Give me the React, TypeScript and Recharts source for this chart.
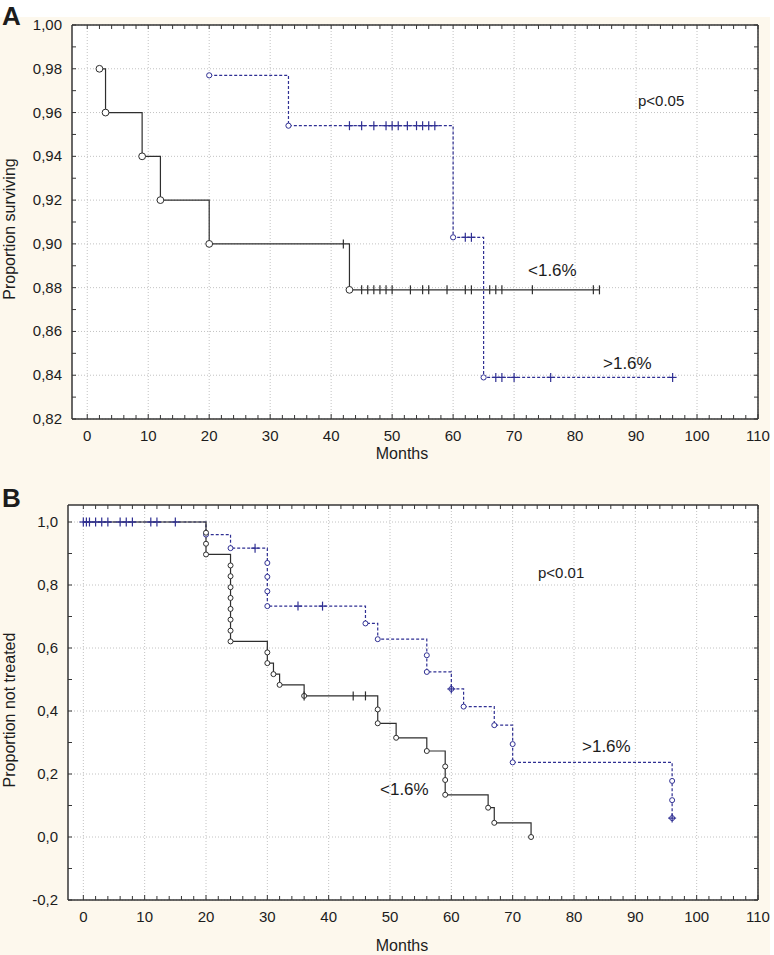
import React from 'react';
import { ComposedChart, Line, Scatter, XAxis, YAxis, CartesianGrid } from 'recharts';

const AXIS = '#363636';
const LOW = '#2e2e2e';
const HIGH = '#2f2f93';
const TXT = '#1c1c1c';
const FONT = '"Liberation Sans", Arial, sans-serif';

// ---- panel A: proportion surviving ----
const aLowTimes = [2, 3, 9, 12, 20, 43];
const aLowSurv = [0.98, 0.96, 0.94, 0.92, 0.9, 0.879];
const aLowCensored = [42, 45, 46, 47, 48, 49, 50, 53, 55, 56, 59, 62, 63, 66, 67, 68, 73, 83, 84];

const aHighTimes = [20, 33, 60, 65];
const aHighSurv = [0.977, 0.954, 0.903, 0.839];
const aHighCensored = [43, 45, 47, 49, 50, 51, 52.5, 54, 55, 56, 57, 62, 63, 67, 68, 70, 76, 96];

const aYLabels = [0.82, 0.84, 0.86, 0.88, 0.9, 0.92, 0.94, 0.96, 0.98, 1.0];

// ---- panel B: proportion not treated ----
const bLowTimes = [20, 20, 20, 24, 24, 24, 24, 24, 24, 24, 24, 30, 30, 31, 32, 36, 48, 48, 51, 56, 59, 59, 59, 66, 67, 73];
const bLowSurv = [0.966, 0.931, 0.897, 0.862, 0.828, 0.793, 0.759, 0.724, 0.69, 0.655, 0.621, 0.586, 0.552, 0.517, 0.483, 0.448, 0.405, 0.361, 0.315, 0.273, 0.224, 0.181, 0.134, 0.093, 0.045, 0.0];
const bLowCensored = [36, 44, 46];

const bHighTimes = [20, 24, 30, 30, 30, 30, 46, 48, 56, 56, 60, 62, 67, 70, 70, 96, 96, 96];
const bHighSurv = [0.96, 0.917, 0.87, 0.826, 0.78, 0.733, 0.678, 0.628, 0.577, 0.524, 0.47, 0.414, 0.355, 0.295, 0.237, 0.178, 0.117, 0.06];
const bHighCensored = [0, 0.5, 1, 2, 3, 4, 6, 7, 8, 11, 12, 15, 28, 35, 39, 60, 96];

const bYLabels = [-0.2, 0.0, 0.2, 0.4, 0.6, 0.8, 1.0];

const xLabels = [0, 10, 20, 30, 40, 50, 60, 70, 80, 90, 100, 110];

// minor tick positions (axis decoration only)
const xMinor = Array.from({ length: 56 }, (_, i) => i * 2);
const aYMinor = Array.from({ length: 19 }, (_, i) => Math.round((0.82 + i * 0.01) * 100) / 100);
const bYMinor = Array.from({ length: 13 }, (_, i) => Math.round((-0.2 + i * 0.1) * 10) / 10);

type Pt = { x: number; y: number; ev?: boolean };

function survAt(times: number[], surv: number[], t: number, start?: number) {
  let y = start !== undefined ? 1 : surv[0];
  times.forEach((tt, i) => {
    if (tt <= t) y = surv[i];
  });
  return y;
}

function stepLine(times: number[], surv: number[], censored: number[], start?: number): Pt[] {
  const pts: Pt[] = times.map((t, i) => ({ x: t, y: surv[i], ev: true }));
  if (start !== undefined) pts.unshift({ x: start, y: 1, ev: false });
  const last = pts[pts.length - 1];
  const lastC = Math.max(...censored);
  if (lastC > last.x) pts.push({ x: lastC, y: last.y, ev: false });
  return pts;
}

function censorPts(times: number[], surv: number[], censored: number[], start?: number): Pt[] {
  return censored.map((t) => ({ x: t, y: survAt(times, surv, t, start) }));
}

const isIn = (arr: number[], v: number) => arr.some((a) => Math.abs(a - v) < 1e-6);
const fmt = (v: number, d: number) => v.toFixed(d).replace('.', ',');

const makeDot = (color: string, r: number) => (p: any) => {
  if (!p.payload || !p.payload.ev) return <g key={p.index} />;
  return <circle key={p.index} cx={p.cx} cy={p.cy} r={r} fill="#fff" stroke={color} strokeWidth={1} />;
};

const makeCross = (color: string, hw: number) => (p: any) => (
  <g>
    <line x1={p.cx - hw} x2={p.cx + hw} y1={p.cy} y2={p.cy} stroke={color} strokeWidth={1.2} />
    <line x1={p.cx} x2={p.cx} y1={p.cy - 4.5} y2={p.cy + 4.5} stroke={color} strokeWidth={1.2} />
  </g>
);

const bottomTick = (p: any) => {
  const v = p.payload.value;
  const major = isIn(xLabels, v);
  return (
    <g>
      <line x1={p.x} x2={p.x} y1={p.y} y2={p.y - (major ? 5 : 4)} stroke={AXIS} />
      {major && (
        <text x={p.x} y={p.y + 22} textAnchor="middle" fontSize={15} fill={TXT} fontFamily={FONT}>
          {v}
        </text>
      )}
    </g>
  );
};

const topTick = (p: any) => <line x1={p.x} x2={p.x} y1={p.y} y2={p.y + 4} stroke={AXIS} />;
const rightTick = (p: any) => <line x1={p.x} x2={p.x - 4} y1={p.y} y2={p.y} stroke={AXIS} />;

const makeLeftTick = (labels: number[], digits: number) => (p: any) => {
  const v = p.payload.value;
  const major = isIn(labels, v);
  return (
    <g>
      <line x1={p.x} x2={p.x + 4} y1={p.y} y2={p.y} stroke={AXIS} />
      {major && (
        <text x={p.x - 10} y={p.y + 5} textAnchor="end" fontSize={15} fill={TXT} fontFamily={FONT}>
          {fmt(v, digits)}
        </text>
      )}
    </g>
  );
};

type Series = { line: Pt[]; censors: Pt[]; color: string; dash?: string; r: number; hw: number };

function KMPanel(props: {
  top: number;
  height: number;
  margin: { top: number; right: number; bottom: number; left: number };
  yDomain: [number, number];
  yMinor: number[];
  yLabels: number[];
  digits: number;
  series: Series[];
}) {
  const { top, height, margin, yDomain, yMinor, yLabels, digits, series } = props;
  const axisLine = { stroke: AXIS, strokeWidth: 1.5 };
  return (
    <div style={{ position: 'absolute', left: 0, top }}>
      <ComposedChart width={774} height={height} margin={margin}>
        <CartesianGrid
          stroke="#c2c2c2"
          strokeDasharray="1 2"
          fill="#ffffff"
          verticalValues={xLabels}
          horizontalValues={yLabels}
        />
        <XAxis
          dataKey="x"
          type="number"
          domain={[-2.5, 110]}
          allowDataOverflow
          ticks={xMinor}
          interval={0}
          tickSize={0}
          tickMargin={0}
          tickLine={false}
          tick={bottomTick}
          axisLine={axisLine}
          height={30}
        />
        <XAxis
          xAxisId="t"
          orientation="top"
          dataKey="x"
          type="number"
          domain={[-2.5, 110]}
          allowDataOverflow
          ticks={xMinor}
          interval={0}
          tickSize={0}
          tickMargin={0}
          tickLine={false}
          tick={topTick}
          axisLine={axisLine}
          height={1}
        />
        <YAxis
          type="number"
          domain={yDomain}
          allowDataOverflow
          ticks={yMinor}
          interval={0}
          tickSize={0}
          tickMargin={0}
          tickLine={false}
          tick={makeLeftTick(yLabels, digits)}
          axisLine={axisLine}
          width={60}
        />
        <YAxis
          yAxisId="r"
          orientation="right"
          type="number"
          domain={yDomain}
          allowDataOverflow
          ticks={yMinor}
          interval={0}
          tickSize={0}
          tickMargin={0}
          tickLine={false}
          tick={rightTick}
          axisLine={axisLine}
          width={1}
        />
        {series.map((s, i) => (
          <Line
            key={'l' + i}
            data={s.line}
            dataKey="y"
            type="stepAfter"
            stroke={s.color}
            strokeWidth={1.2}
            strokeDasharray={s.dash}
            dot={makeDot(s.color, s.r)}
            activeDot={false}
            isAnimationActive={false}
          />
        ))}
        {series.map((s, i) => (
          <Scatter
            key={'c' + i}
            data={s.censors}
            dataKey="y"
            shape={makeCross(s.color, s.hw)}
            isAnimationActive={false}
          />
        ))}
      </ComposedChart>
    </div>
  );
}

export default function App() {
  const seriesA: Series[] = [
    {
      line: stepLine(aHighTimes, aHighSurv, aHighCensored),
      censors: censorPts(aHighTimes, aHighSurv, aHighCensored),
      color: HIGH,
      dash: '3 2',
      r: 2.6,
      hw: 4,
    },
    {
      line: stepLine(aLowTimes, aLowSurv, aLowCensored),
      censors: censorPts(aLowTimes, aLowSurv, aLowCensored),
      color: LOW,
      r: 3.4,
      hw: 0,
    },
  ];
  const seriesB: Series[] = [
    {
      line: stepLine(bHighTimes, bHighSurv, bHighCensored, 0),
      censors: censorPts(bHighTimes, bHighSurv, bHighCensored, 0),
      color: HIGH,
      dash: '3 2',
      r: 2.5,
      hw: 4,
    },
    {
      line: stepLine(bLowTimes, bLowSurv, bLowCensored, 0),
      censors: censorPts(bLowTimes, bLowSurv, bLowCensored, 0),
      color: LOW,
      r: 2.5,
      hw: 0,
    },
  ];

  const txt = { fontFamily: FONT, fill: TXT } as const;

  return (
    <div style={{ position: 'absolute', left: 0, top: 0, width: 774, height: 955, background: '#fff', overflow: 'hidden' }}>
      <div style={{ position: 'absolute', left: 0, top: 17, width: 770, height: 938, background: '#fdf8ed' }} />
      <KMPanel
        top={0}
        height={460}
        margin={{ top: 24, right: 15, bottom: 11, left: 12 }}
        yDomain={[0.82, 1.0]}
        yMinor={aYMinor}
        yLabels={aYLabels}
        digits={2}
        series={seriesA}
      />
      <KMPanel
        top={460}
        height={495}
        margin={{ top: 44, right: 15, bottom: 25, left: 8 }}
        yDomain={[-0.2, 1.054]}
        yMinor={bYMinor}
        yLabels={bYLabels}
        digits={1}
        series={seriesB}
      />
      <svg width={774} height={955} style={{ position: 'absolute', left: 0, top: 0, pointerEvents: 'none' }}>
        <text x={2} y={25} fontSize={26} fontWeight="bold" {...txt}>A</text>
        <text x={2} y={507} fontSize={26} fontWeight="bold" {...txt}>B</text>

        <text x={15} y={229} fontSize={16} textAnchor="middle" transform="rotate(-90 15 229)" {...txt}>
          Proportion surviving
        </text>
        <text x={402} y={459} fontSize={16} textAnchor="middle" {...txt}>Months</text>
        <text x={638} y={105.5} fontSize={15} {...txt}>p&lt;0.05</text>
        <text x={528} y={276} fontSize={17} {...txt}>&lt;1.6%</text>
        <text x={603} y={369} fontSize={17} {...txt}>&gt;1.6%</text>

        <text x={15} y={710} fontSize={16} textAnchor="middle" transform="rotate(-90 15 710)" {...txt}>
          Proportion not treated
        </text>
        <text x={402} y={951} fontSize={16} textAnchor="middle" {...txt}>Months</text>
        <text x={538} y={578} fontSize={15} {...txt}>p&lt;0.01</text>
        <text x={380} y={795} fontSize={17} {...txt}>&lt;1.6%</text>
        <text x={582} y={751.5} fontSize={17} {...txt}>&gt;1.6%</text>
      </svg>
    </div>
  );
}
